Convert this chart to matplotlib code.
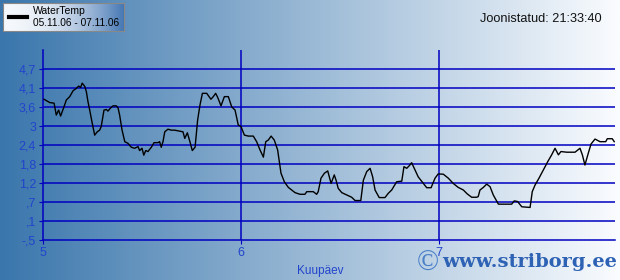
import numpy as np
import matplotlib
matplotlib.use('Agg')
from matplotlib import pyplot as plt

# day of month (5 = 05.11.06 00:00) and water temperature
days = [5.005, 5.017, 5.034, 5.056, 5.067, 5.079, 5.089, 5.106, 5.118, 5.135,
        5.152, 5.168, 5.180, 5.190, 5.198, 5.211, 5.219, 5.227, 5.236, 5.247,
        5.261, 5.274, 5.286, 5.294, 5.308, 5.320, 5.328, 5.342, 5.354, 5.370,
        5.379, 5.387, 5.399, 5.413, 5.429, 5.446, 5.463, 5.480, 5.488, 5.500,
        5.509, 5.519, 5.530, 5.547, 5.561, 5.581, 5.589, 5.597, 5.606, 5.615,
        5.631, 5.648, 5.665, 5.690, 5.707, 5.716, 5.729, 5.742, 5.754, 5.768,
        5.781, 5.793, 5.805, 5.827, 5.848, 5.860, 5.872, 5.882, 5.899, 5.916,
        5.936, 5.953, 5.970, 5.986, 6.000, 6.017, 6.037, 6.062, 6.079, 6.096,
        6.113, 6.125, 6.138, 6.152, 6.168, 6.185, 6.202, 6.219, 6.239, 6.256,
        6.273, 6.298, 6.323, 6.332, 6.365, 6.382, 6.390, 6.404, 6.421, 6.438,
        6.455, 6.471, 6.480, 6.491, 6.509, 6.534, 6.559, 6.576, 6.605, 6.618,
        6.635, 6.652, 6.665, 6.677, 6.698, 6.727, 6.744, 6.761, 6.786, 6.812,
        6.823, 6.837, 6.850, 6.862, 6.879, 6.895, 6.921, 6.938, 6.960, 6.980,
        6.996, 7.022, 7.047, 7.072, 7.097, 7.123, 7.143, 7.165, 7.190, 7.198,
        7.207, 7.224, 7.241, 7.258, 7.274, 7.300, 7.333, 7.367, 7.380, 7.397,
        7.418, 7.460, 7.471, 7.485, 7.505, 7.527, 7.549, 7.569, 7.586, 7.603,
        7.616, 7.645, 7.687, 7.712, 7.724, 7.737, 7.754, 7.768, 7.788, 7.813,
        7.842, 7.850, 7.875, 7.885]
temp = [3.78, 3.74, 3.68, 3.66, 3.30, 3.45, 3.27, 3.55, 3.76, 3.86,
        4.04, 4.11, 4.18, 4.14, 4.27, 4.17, 4.01, 3.71, 3.45, 3.10,
        2.69, 2.79, 2.84, 2.95, 3.45, 3.47, 3.42, 3.52, 3.58, 3.58,
        3.52, 3.30, 2.85, 2.49, 2.44, 2.32, 2.29, 2.34, 2.22, 2.29,
        2.08, 2.22, 2.19, 2.32, 2.46, 2.46, 2.49, 2.32, 2.49, 2.79,
        2.87, 2.84, 2.84, 2.81, 2.79, 2.59, 2.76, 2.49, 2.22, 2.32,
        3.15, 3.61, 3.96, 3.96, 3.78, 3.86, 3.96, 3.84, 3.58, 3.86,
        3.86, 3.55, 3.45, 3.00, 2.95, 2.69, 2.66, 2.66, 2.49, 2.24,
        2.02, 2.49, 2.54, 2.66, 2.54, 2.24, 1.53, 1.27, 1.10, 1.02,
        0.94, 0.89, 0.89, 0.97, 0.97, 0.89, 0.97, 1.38, 1.53, 1.60,
        1.22, 1.48, 1.32, 1.07, 0.94, 0.87, 0.80, 0.70, 0.70, 1.32,
        1.58, 1.68, 1.42, 1.02, 0.79, 0.79, 0.92, 1.02, 1.27, 1.29,
        1.73, 1.68, 1.76, 1.85, 1.63, 1.42, 1.22, 1.09, 1.09, 1.38,
        1.51, 1.50, 1.38, 1.22, 1.10, 1.02, 0.90, 0.80, 0.80, 0.82,
        1.02, 1.10, 1.20, 1.12, 0.87, 0.59, 0.59, 0.59, 0.69, 0.67,
        0.51, 0.49, 0.97, 1.17, 1.38, 1.63, 1.88, 2.09, 2.29, 2.09,
        2.19, 2.17, 2.17, 2.29, 2.09, 1.78, 2.14, 2.42, 2.57, 2.49,
        2.49, 2.58, 2.58, 2.49]

ytick_vals = np.linspace(-0.5, 4.7, 10)
ytick_labels = ['-,5', ',1', ',7', '1,2', '1,8', '2,4', '3', '3,6', '4,1', '4,7']
xtick_vals = [5, 6, 7]
xtick_labels = ['5', '6', '7']

plt.rcParams['font.family'] = ['Liberation Sans', 'DejaVu Sans']

fig = plt.figure(figsize=(6.2, 2.8), dpi=100)

# background gradient over the whole figure
bg = fig.add_axes([0, 0, 1, 1], zorder=-10)
g = np.linspace(0, 1, 256)
c0 = np.array([58, 118, 172]) / 255
c1 = np.array([250, 252, 255]) / 255
grad = (c0[None, :] * (1 - g[:, None]) + c1[None, :] * g[:, None])[None, :, :]
bg.imshow(grad, aspect='auto', extent=[0, 1, 0, 1])
bg.set_axis_off()

blue = '#0000c0'
ax = fig.add_axes([43 / 620, 40 / 280, 572 / 620, 190 / 280])
ax.patch.set_alpha(0)
ax.plot(days, temp, color='black', lw=1.0, zorder=3)
ax.set_xlim(5, 5 + 572 / 198)
ax.set_ylim(-0.5, 5.278)
for v in ytick_vals[1:]:
    ax.axhline(v, color=blue, lw=1.1, zorder=1)
for v in xtick_vals[1:]:
    ax.axvline(v, color=blue, lw=1.1, zorder=1)
for s in ['top', 'right']:
    ax.spines[s].set_visible(False)
for s in ['left', 'bottom']:
    ax.spines[s].set_color(blue)
    ax.spines[s].set_linewidth(1.1)
ax.set_yticks(ytick_vals)
ax.set_yticklabels(ytick_labels)
ax.set_xticks(xtick_vals)
ax.set_xticklabels(xtick_labels)
ax.tick_params(colors=blue, labelcolor='#2244cc', labelsize=9, length=3, pad=2)
ax.set_xlabel('Kuupäev', color='#2244cc', fontsize=8.5)
ax.xaxis.set_label_coords(0.484, -0.13)

# legend box
lg = fig.add_axes([3 / 620, 1 - 31 / 280, 121 / 620, 28 / 280])
lc0 = np.array([245, 248, 252]) / 255
lc1 = np.array([70, 120, 180]) / 255
lgrad = (lc0[None, :] * (1 - g[:, None] ** 2) + lc1[None, :] * g[:, None] ** 2)[None, :, :]
lg.imshow(lgrad, aspect='auto', extent=[0, 1, 0, 1])
lg.set_xlim(0, 1)
lg.set_ylim(0, 1)
lg.set_xticks([])
lg.set_yticks([])
for s in lg.spines.values():
    s.set_color('#888888')
    s.set_linewidth(0.8)
lg.plot([0.05, 0.2], [0.5, 0.5], color='black', lw=3)
lg.text(0.245, 0.72, 'WaterTemp', fontsize=7.5, va='center', ha='left')
lg.text(0.245, 0.3, '05.11.06 - 07.11.06', fontsize=7.3, va='center', ha='left')

fig.text(602 / 620, 1 - 19 / 280, 'Joonistatud: 21:33:40', fontsize=9.2,
         ha='right', va='center', color='#111111')

fig.text(417 / 620, 1 - 264 / 280, '\u00a9', fontsize=21, family='Liberation Serif',
         color='#4a80c8', ha='left', va='center')
fig.text(617 / 620, 1 - 262 / 280, 'www.striborg.ee', fontsize=14, family='DejaVu Serif',
         weight='bold', color='#2e62b4', ha='right', va='center')

fig.savefig('out.png', dpi=100)
